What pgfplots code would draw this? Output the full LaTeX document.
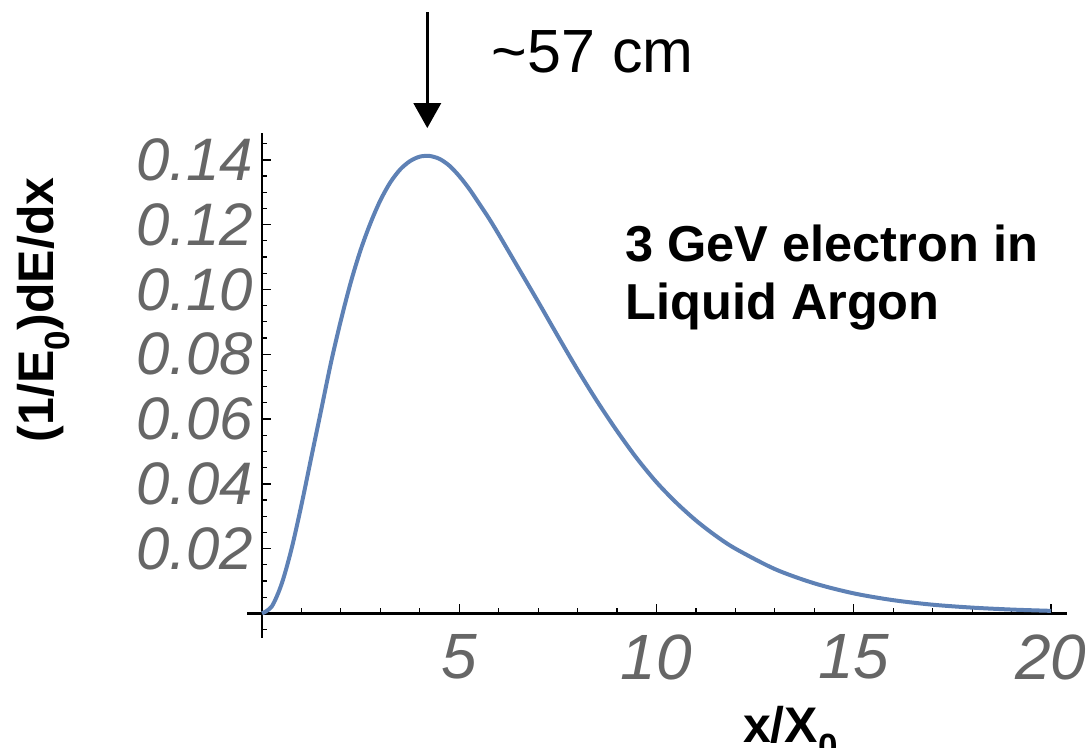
\documentclass[border=0pt]{standalone}
\usepackage{fontspec}
\setmainfont{Liberation Sans}
\usepackage{pgfplots}
\pgfplotsset{compat=1.18}
\usetikzlibrary{arrows.meta}
\definecolor{curveblue}{RGB}{94,129,181}
\definecolor{tickgray}{RGB}{102,102,102}

\begin{document}
\begin{tikzpicture}
\begin{axis}[
  scale only axis, width=819.8pt, height=505.1pt,
  xmin=-0.38, xmax=20.4, ymin=-0.0075, ymax=0.1484,
  axis lines=middle,
  axis line style={-, line width=2.4pt, black},
  every inner x axis line/.append style={-},
  every inner y axis line/.append style={-},
  clip=false,
  xtick={5,10,15,20}, xticklabels={5,10,15,20},
  minor xtick={1,2,3,4,6,7,8,9,11,12,13,14,16,17,18,19},
  ytick={0.02,0.04,0.06,0.08,0.10,0.12,0.14},
  yticklabels={0.02,0.04,0.06,0.08,0.10,0.12,0.14},
  minor ytick={-0.005,0.005,0.01,0.015,0.025,0.03,0.035,0.045,0.05,0.055,0.065,0.07,0.075,0.085,0.09,0.095,0.105,0.11,0.115,0.125,0.13,0.135,0.145},
  tick align=inside,
  major tick length=9pt, minor tick length=5pt,
  major tick style={black, line width=1.4pt},
  minor tick style={black, line width=1.2pt},
  xticklabel style={font=\fontsize{64}{70}\selectfont\itshape, text=tickgray, anchor=north, inner sep=0pt, yshift=-21pt},
  yticklabel style={font=\fontsize{60}{66}\selectfont\itshape, text=tickgray, anchor=east, inner sep=0pt, xshift=-9pt},
]
\addplot[curveblue, line width=4pt, smooth] coordinates {
(0,0) (0.25,0.0022) (0.5,0.0092) (0.75,0.0200) (1.0,0.0335) (1.25,0.0482)
(1.5,0.0628) (1.75,0.0775) (2.0,0.0905) (2.25,0.1022) (2.5,0.1122) (2.75,0.1205)
(3.0,0.1275) (3.25,0.1330) (3.5,0.1370) (3.75,0.1396) (4.0,0.1410) (4.25,0.1412)
(4.5,0.1403) (4.75,0.1382) (5.0,0.1350) (5.25,0.1311) (5.5,0.1266) (5.75,0.1220)
(6.0,0.1170) (6.5,0.1066) (7.0,0.0962) (7.5,0.0856) (8.0,0.0752) (8.5,0.0654)
(9.0,0.0563) (9.5,0.0479) (10.0,0.0405) (10.5,0.0342) (11.0,0.0287) (11.5,0.0240)
(12.0,0.0200) (13.0,0.0137) (14.0,0.0093) (15.0,0.0062) (16.0,0.0041) (17.0,0.0027)
(18.0,0.0018) (19.0,0.0012) (20.0,0.0008)
};
\draw[line width=3.5pt, -{Triangle[width=27pt,length=25pt]}] (axis cs:4.19,0.1856) -- (axis cs:4.19,0.1498);
\node[anchor=base west, inner sep=0pt, font=\fontsize{61}{70}\selectfont] at (axis cs:5.82,0.1671) {\symbol{126}57 cm};
\node[anchor=base west, inner sep=0pt, font=\fontsize{50.5}{58}\selectfont\bfseries] at (axis cs:9.21,0.1085) {3 GeV electron in};
\node[anchor=base west, inner sep=0pt, font=\fontsize{50.5}{58}\selectfont\bfseries] at (axis cs:9.21,0.0906) {Liquid Argon};
\node[rotate=90, anchor=center, inner sep=0pt, font=\fontsize{50}{60}\selectfont\bfseries] at (axis cs:-5.53,0.0937) {(1/E\textsubscript{0})dE/dx};
\node[anchor=base west, inner sep=0pt, font=\fontsize{50}{60}\selectfont\bfseries] at (axis cs:12.19,-0.03997) {x/X\textsubscript{0}};
\coordinate (bbsw) at (axis cs:-6.6413,-0.041512);
\coordinate (bbne) at (axis cs:21.0139,0.18935);
\end{axis}
\pgfresetboundingbox
\useasboundingbox (bbsw) rectangle (bbne);
\end{tikzpicture}
\end{document}
